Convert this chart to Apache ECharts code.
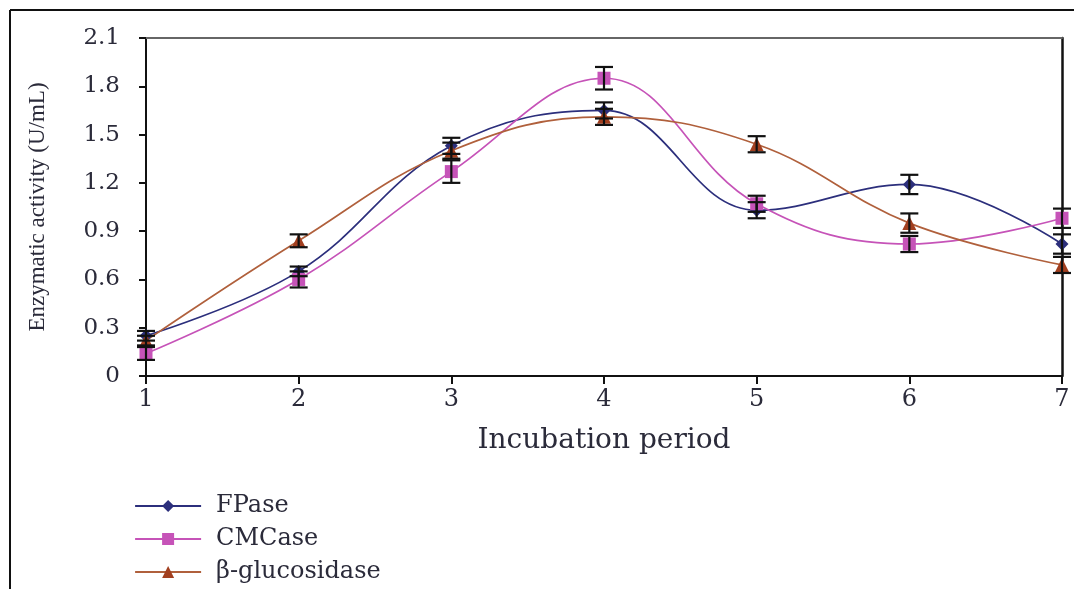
<!DOCTYPE html>
<html><head><meta charset="utf-8">
<script src="https://cdn.jsdelivr.net/npm/echarts@6/dist/echarts.min.js"></script>
<style>html,body{margin:0;padding:0;background:#fff}#c{width:1074px;height:589px}</style>
</head><body><div id="c"></div>
<script>
const categories = ['1','2','3','4','5','6','7'];
const yTicks = [0, 0.3, 0.6, 0.9, 1.2, 1.5, 1.8, 2.1];
const fpase = [0.25, 0.65, 1.43, 1.65, 1.03, 1.19, 0.82];
const fpaseErr = [0.03, 0.03, 0.05, 0.05, 0.05, 0.06, 0.06];
const cmcase = [0.14, 0.60, 1.27, 1.85, 1.07, 0.82, 0.98];
const cmcaseErr = [0.04, 0.05, 0.07, 0.07, 0.05, 0.05, 0.06];
const bglu = [0.22, 0.84, 1.40, 1.61, 1.44, 0.95, 0.69];
const bgluErr = [0.03, 0.04, 0.05, 0.05, 0.05, 0.06, 0.05];

const serif = '"DejaVu Serif", "Liberation Serif", serif';
const C_F = '#2c2f7c', C_C = '#c653b8', C_B = '#a23f1f';
const TXT = '#2b2b3a';

function errData(vals, errs){ return vals.map((v,i)=>[i, v-errs[i], v+errs[i]]); }
function errSeries(vals, errs){
  return {
    type:'custom', data: errData(vals, errs), z: 5, silent:true,
    renderItem: function(params, api){
      const lo = api.coord([api.value(0), api.value(1)]);
      const hi = api.coord([api.value(0), api.value(2)]);
      const w = 9;
      const st = {stroke:'#111', lineWidth:2.2};
      return {type:'group', children:[
        {type:'line', shape:{x1:lo[0],y1:lo[1],x2:hi[0],y2:hi[1]}, style:st},
        {type:'line', shape:{x1:lo[0]-w,y1:lo[1],x2:lo[0]+w,y2:lo[1]}, style:st},
        {type:'line', shape:{x1:hi[0]-w,y1:hi[1],x2:hi[0]+w,y2:hi[1]}, style:st}
      ]};
    }
  };
}
function lineSeries(name, vals, color, symbol, size, lineColor){
  return {name, type:'line', data: vals, smooth:0.4, symbol, symbolSize:size,
    showAllSymbol:true, z:4,
    itemStyle:{color}, lineStyle:{color: lineColor||color, width:1.7}};
}

const chart = echarts.init(document.getElementById('c'), null, {renderer:'canvas'});
chart.setOption({
  animation:false,
  backgroundColor:'#fff',
  grid:{left:146, right:12, top:38, bottom:213, containLabel:false},
  graphic:[
    {type:'line', shape:{x1:10,y1:10,x2:1074,y2:10}, style:{stroke:'#111', lineWidth:2}},
    {type:'line', shape:{x1:10,y1:10,x2:10,y2:589}, style:{stroke:'#111', lineWidth:2}}
  ],
  legend:{
    orient:'vertical', left:129, top:489, itemWidth:66, itemHeight:15, itemGap:9,
    lineStyle:{width:2.2},
    textStyle:{fontFamily:serif, fontSize:24, color:TXT, lineHeight:24, padding:[0,0,0,10]},
    data:['FPase','CMCase','β-glucosidase']
  },
  xAxis:[{
    type:'category', data:categories, boundaryGap:false,
    name:'Incubation period', nameLocation:'middle', nameGap:51,
    nameTextStyle:{fontFamily:serif, fontSize:28, color:TXT},
    axisLine:{lineStyle:{color:'#111', width:2}},
    axisTick:{show:true, inside:false, length:8, alignWithLabel:true, lineStyle:{color:'#111', width:2}},
    axisLabel:{fontFamily:serif, fontSize:24, color:TXT, margin:12},
    splitLine:{show:false}
  },{
    type:'category', data:categories, boundaryGap:false, position:'top',
    axisLine:{show:true, onZero:false, lineStyle:{color:'#666', width:2}}, axisTick:{show:false}, axisLabel:{show:false}
  }],
  yAxis:[{
    type:'value', min:0, max:2.1, interval:0.3,
    name:'Enzymatic activity (U/mL)', nameLocation:'middle', nameGap:97,
    nameTextStyle:{fontFamily:'"Liberation Serif", serif', fontSize:23, color:TXT},
    axisLine:{show:true, lineStyle:{color:'#111', width:2}},
    axisTick:{show:true, inside:false, length:7, lineStyle:{color:'#111', width:2}},
    axisLabel:{fontFamily:serif, fontSize:23, color:TXT, margin:26,
      formatter: v => { const t = yTicks.find(x=>Math.abs(x-v)<1e-6); return t===0?'0':(t!==undefined? t.toFixed(1):''); }},
    splitLine:{show:false}
  },{
    type:'value', min:0, max:2.1, interval:0.3, position:'right',
    axisLine:{show:true, onZero:false, lineStyle:{color:'#111', width:2.5}}, axisTick:{show:false}, axisLabel:{show:false}, splitLine:{show:false}
  }],
  series:[
    lineSeries('FPase', fpase, C_F, 'diamond', 13),
    lineSeries('CMCase', cmcase, C_C, 'rect', 13),
    lineSeries('β-glucosidase', bglu, C_B, 'triangle', 14, '#b0603c'),
    errSeries(fpase, fpaseErr),
    errSeries(cmcase, cmcaseErr),
    errSeries(bglu, bgluErr)
  ]
});
</script></body></html>
